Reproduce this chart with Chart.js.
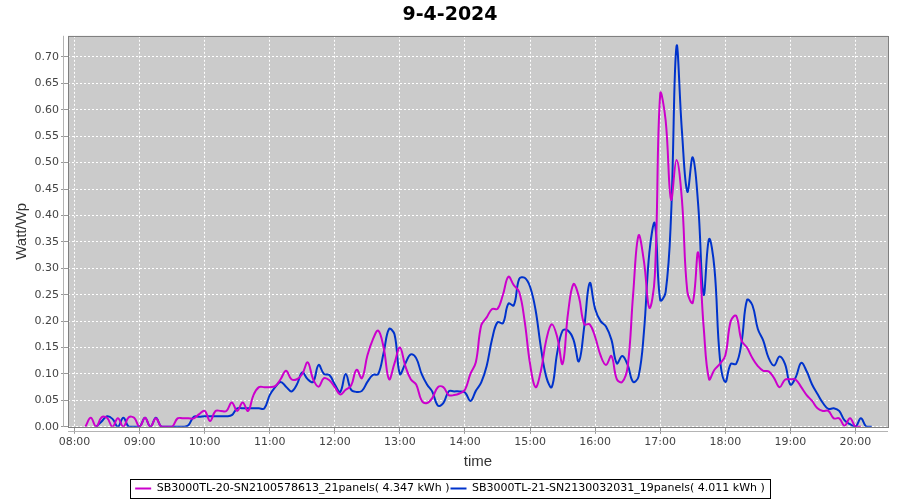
<!DOCTYPE html>
<html>
<head>
<meta charset="utf-8">
<script src="https://cdn.jsdelivr.net/npm/chart.js@4.4.1/dist/chart.umd.min.js"></script>
<style>
    html, body { margin: 0; padding: 0; background: #fff; }
    #wrap { width: 900px; height: 500px; }
</style>
</head>
<body>
<div id="wrap"><canvas id="grafico"></canvas></div>
<script>
// horarios a cada 5 minutos, 08:00 .. 20:15
let horas = [
    '08:00','08:05','08:10','08:15','08:20','08:25','08:30','08:35','08:40','08:45','08:50','08:55',
    '09:00','09:05','09:10','09:15','09:20','09:25','09:30','09:35','09:40','09:45','09:50','09:55',
    '10:00','10:05','10:10','10:15','10:20','10:25','10:30','10:35','10:40','10:45','10:50','10:55',
    '11:00','11:05','11:10','11:15','11:20','11:25','11:30','11:35','11:40','11:45','11:50','11:55',
    '12:00','12:05','12:10','12:15','12:20','12:25','12:30','12:35','12:40','12:45','12:50','12:55',
    '13:00','13:05','13:10','13:15','13:20','13:25','13:30','13:35','13:40','13:45','13:50','13:55',
    '14:00','14:05','14:10','14:15','14:20','14:25','14:30','14:35','14:40','14:45','14:50','14:55',
    '15:00','15:05','15:10','15:15','15:20','15:25','15:30','15:35','15:40','15:45','15:50','15:55',
    '16:00','16:05','16:10','16:15','16:20','16:25','16:30','16:35','16:40','16:45','16:50','16:55',
    '17:00','17:05','17:10','17:15','17:20','17:25','17:30','17:35','17:40','17:45','17:50','17:55',
    '18:00','18:05','18:10','18:15','18:20','18:25','18:30','18:35','18:40','18:45','18:50','18:55',
    '19:00','19:05','19:10','19:15','19:20','19:25','19:30','19:35','19:40','19:45','19:50','19:55',
    '20:00','20:05','20:10','20:15'
]

// SB3000TL-20 (magenta)
let inversor20 = [
    null, null, 0, 0.017, 0, 0.018, 0.017, 0, 0.016, 0, 0.018, 0.017,
    0, 0.017, 0, 0.016, 0, 0, 0, 0.016, 0.016, 0.016, 0.016, 0.024,
    0.03, 0.011, 0.03, 0.03, 0.03, 0.046, 0.03, 0.046, 0.03, 0.06, 0.075, 0.075,
    0.075, 0.077, 0.09, 0.106, 0.09, 0.09, 0.1, 0.122, 0.09, 0.076, 0.092, 0.088,
    0.075, 0.061, 0.07, 0.078, 0.108, 0.092, 0.135, 0.165, 0.182, 0.15, 0.09, 0.12,
    0.15, 0.115, 0.09, 0.08, 0.05, 0.045, 0.055, 0.075, 0.075, 0.06, 0.06, 0.063,
    0.07, 0.1, 0.122, 0.192, 0.207, 0.223, 0.223, 0.25, 0.284, 0.268, 0.255, 0.2,
    0.119, 0.075, 0.106, 0.165, 0.194, 0.17, 0.119, 0.215, 0.27, 0.246, 0.194, 0.194,
    0.17, 0.135, 0.117, 0.134, 0.09, 0.085, 0.114, 0.25, 0.362, 0.313, 0.225, 0.285,
    0.63, 0.58, 0.43, 0.505, 0.43, 0.256, 0.235, 0.33, 0.19, 0.09, 0.108, 0.119,
    0.135, 0.2, 0.21, 0.163, 0.15, 0.13, 0.115, 0.106, 0.105, 0.092, 0.075, 0.089,
    0.09, 0.089, 0.075, 0.06, 0.049, 0.035, 0.03, 0.03, 0.016, 0.016, 0.002, 0.016,
    0, 0, null, null
]

// SB3000TL-21 (azul)
let inversor21 = [
    null, null, null, null, 0, 0.01, 0.02, 0.015, 0, 0.017, 0, 0,
    0, 0.017, 0, 0.017, 0, 0, 0, 0, 0, 0.003, 0.019, 0.019,
    0.02, 0.02, 0.02, 0.02, 0.02, 0.022, 0.035, 0.035, 0.035, 0.035, 0.035, 0.035,
    0.06, 0.075, 0.085, 0.076, 0.067, 0.08, 0.103, 0.09, 0.085, 0.117, 0.1, 0.098,
    0.08, 0.066, 0.1, 0.07, 0.066, 0.068, 0.085, 0.098, 0.1, 0.14, 0.185, 0.175,
    0.1, 0.12, 0.137, 0.13, 0.1, 0.08, 0.066, 0.04, 0.045, 0.067, 0.067, 0.067,
    0.065, 0.049, 0.068, 0.084, 0.115, 0.166, 0.198, 0.196, 0.233, 0.23, 0.28, 0.282,
    0.265, 0.222, 0.15, 0.094, 0.075, 0.14, 0.182, 0.182, 0.165, 0.124, 0.19, 0.272,
    0.223, 0.2, 0.19, 0.165, 0.12, 0.134, 0.117, 0.085, 0.095, 0.18, 0.33, 0.385,
    0.24, 0.255, 0.40, 0.72, 0.56, 0.445, 0.51, 0.42, 0.25, 0.355, 0.30, 0.13,
    0.085, 0.119, 0.119, 0.16, 0.24, 0.23, 0.185, 0.163, 0.13, 0.116, 0.133, 0.119,
    0.08, 0.094, 0.121, 0.105, 0.08, 0.062, 0.045, 0.034, 0.035, 0.03, 0.012, 0.005,
    0, 0.016, 0, 0
]

let nomes = [
    'SB3000TL-20-SN2100578613_21panels( 4.347 kWh )',
    'SB3000TL-21-SN2130032031_19panels( 4.011 kWh )'
]
let ticksX = ['08:00','09:00','10:00','11:00','12:00','13:00','14:00','15:00','16:00','17:00','18:00','19:00','20:00']
let ticksY = [0, 0.05, 0.1, 0.15, 0.2, 0.25, 0.3, 0.35, 0.4, 0.45, 0.5, 0.55, 0.6, 0.65, 0.7]

const paraMin = h => Number(h.slice(0, 2)) * 60 + Number(h.slice(3, 5))
const paraHora = m => String(Math.floor(m / 60)).padStart(2, '0') + ':' + String(m % 60).padStart(2, '0')

const pontos = serie => horas.map((h, i) => ({ x: paraMin(h), y: serie[i] }))

const fonte = 'DejaVu Sans, Verdana, sans-serif'
const fonteTitulo = 'Liberation Sans, Arial, sans-serif'

// fundo cinza, moldura, eixos deslocados e caixa da legenda
const moldura = {
    id: 'moldura',
    beforeDraw(chart) {
        const { ctx, chartArea: a } = chart
        ctx.save()
        ctx.fillStyle = '#cbcbcb'
        ctx.fillRect(a.left, a.top, a.right - a.left, a.bottom - a.top)
        ctx.restore()
    },
    afterDraw(chart) {
        const { ctx, chartArea: a } = chart
        ctx.save()
        ctx.lineWidth = 1
        ctx.strokeStyle = '#808080'
        ctx.strokeRect(Math.round(a.left) + 0.5, Math.round(a.top) + 0.5, Math.round(a.right - a.left), Math.round(a.bottom - a.top))

        ctx.strokeStyle = '#b4b4b4'
        ctx.beginPath()
        ctx.moveTo(Math.round(a.left) - 4.5, a.top)
        ctx.lineTo(Math.round(a.left) - 4.5, a.bottom)
        ctx.moveTo(a.left, Math.round(a.bottom) + 4.5)
        ctx.lineTo(a.right, Math.round(a.bottom) + 4.5)
        ctx.stroke()

        const caixas = chart.legend.legendHitBoxes
        if (caixas && caixas.length) {
            let esq = Math.min(...caixas.map(c => c.left)) - 5
            let dir = Math.max(...caixas.map(c => c.left + c.width)) + 5
            let topo = Math.min(...caixas.map(c => c.top)) - 4
            let base = Math.max(...caixas.map(c => c.top + c.height)) + 4
            ctx.strokeStyle = '#000'
            ctx.strokeRect(Math.round(esq) + 0.5, Math.round(topo) + 0.5, Math.round(dir - esq), Math.round(base - topo))
        }
        ctx.restore()
    }
}

new Chart(document.getElementById('grafico'), {
    type: 'line',
    data: {
        datasets: [{
            label: nomes[0],
            data: pontos(inversor20),
            borderColor: '#cc00cc',
            backgroundColor: '#cc00cc',
            borderWidth: 2,
            pointRadius: 0,
            tension: 0.4
        }, {
            label: nomes[1],
            data: pontos(inversor21),
            borderColor: '#0033cc',
            backgroundColor: '#0033cc',
            borderWidth: 2,
            pointRadius: 0,
            tension: 0.4
        }]
    },
    options: {
        responsive: true,
        maintainAspectRatio: false,
        devicePixelRatio: 1,
        animation: false,
        layout: { padding: { left: 0, right: 0, top: 0, bottom: -4 } },
        plugins: {
            title: {
                display: true,
                text: '9-4-2024',
                color: '#000',
                font: { family: fonte, size: 19, weight: 'bold' },
                padding: { top: 4, bottom: 9 }
            },
            legend: {
                position: 'bottom',
                labels: {
                    color: '#000',
                    font: { family: fonte, size: 11 },
                    usePointStyle: true,
                    pointStyle: 'line',
                    pointStyleWidth: 16,
                    padding: 1
                }
            },
            tooltip: { enabled: false }
        },
        scales: {
            x: {
                type: 'linear',
                min: 474,
                max: 1230,
                afterBuildTicks: s => { s.ticks = ticksX.map(h => ({ value: paraMin(h) })) },
                ticks: {
                    color: '#444',
                    font: { family: fonte, size: 11 },
                    maxRotation: 0,
                    autoSkip: false,
                    padding: 2,
                    callback: v => paraHora(v)
                },
                grid: { color: '#ffffff', tickColor: '#999', tickLength: 7, lineWidth: 1 },
                border: { display: false, dash: [2, 2] },
                title: { display: true, text: 'time', color: '#333', font: { family: fonteTitulo, size: 15 }, padding: { top: 2, bottom: 11 } }
            },
            y: {
                min: 0,
                max: 0.74,
                afterBuildTicks: s => { s.ticks = ticksY.map(v => ({ value: v })) },
                afterFit: s => { s.width = 68 },
                ticks: {
                    color: '#444',
                    font: { family: fonte, size: 11 },
                    padding: 2,
                    callback: v => v.toFixed(2)
                },
                grid: { color: '#ffffff', tickColor: '#999', tickLength: 7, lineWidth: 1 },
                border: { display: false, dash: [2, 2] },
                title: { display: true, text: 'Watt/Wp', color: '#333', font: { family: fonteTitulo, size: 15 }, padding: { top: 13, bottom: 0 } }
            },
            // eixo vazio a direita, so para deixar a margem
            margem: {
                type: 'linear',
                position: 'right',
                display: true,
                afterFit: s => { s.width = 12 },
                ticks: { display: false },
                grid: { display: false, drawTicks: false },
                border: { display: false }
            }
        }
    },
    plugins: [moldura]
})
</script>
</body>
</html>
